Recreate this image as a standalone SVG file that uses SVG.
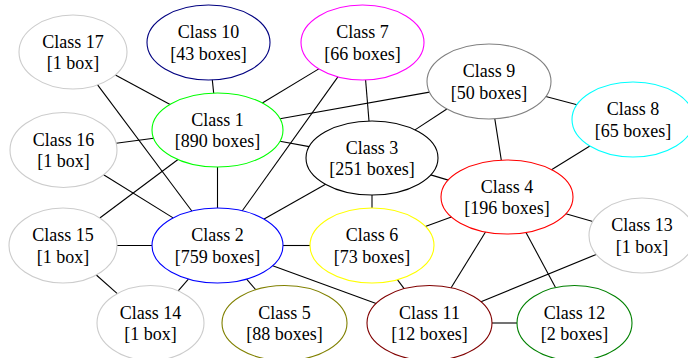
<svg xmlns="http://www.w3.org/2000/svg" width="688" height="358" viewBox="0 0 688 358">
<style>
ellipse{fill:none;stroke-width:1.1}
text{font-family:"Liberation Serif","Times New Roman",serif;font-size:18px;text-anchor:middle;fill:#000}
#edges line{stroke:#000;stroke-width:1.1}
</style>
<rect width="688" height="358" fill="#fff"/>
<g id="edges">
<line x1="115.4" y1="74.9" x2="170.1" y2="104.4"/>
<line x1="97.6" y1="84.9" x2="191.8" y2="211"/>
<line x1="212.3" y1="79.9" x2="213.7" y2="93.1"/>
<line x1="318.8" y1="68.9" x2="262.3" y2="103"/>
<line x1="337.9" y1="76.9" x2="242.3" y2="210.8"/>
<line x1="429.5" y1="92.1" x2="280" y2="118.8"/>
<line x1="279.9" y1="141.3" x2="309.2" y2="146.6"/>
<line x1="116.1" y1="143.2" x2="153.7" y2="138.3"/>
<line x1="103.6" y1="174.8" x2="173.1" y2="217.9"/>
<line x1="178" y1="159.5" x2="99.8" y2="218"/>
<line x1="217.5" y1="167" x2="217.5" y2="208"/>
<line x1="365.6" y1="80" x2="369" y2="121"/>
<line x1="446.9" y1="109" x2="415" y2="129.9"/>
<line x1="494.8" y1="118.8" x2="501.3" y2="160.1"/>
<line x1="545.8" y1="96.5" x2="577" y2="104.7"/>
<line x1="589.9" y1="146" x2="551.5" y2="169.7"/>
<line x1="430.7" y1="174.9" x2="448.3" y2="180.1"/>
<line x1="372" y1="195" x2="372" y2="208"/>
<line x1="325.6" y1="184.3" x2="264.1" y2="219.1"/>
<line x1="451.4" y1="217" x2="425.3" y2="226.4"/>
<line x1="565.8" y1="213.8" x2="592.8" y2="221.5"/>
<line x1="485.5" y1="232" x2="451.1" y2="287.8"/>
<line x1="526" y1="232.4" x2="555.5" y2="287.6"/>
<line x1="596.2" y1="254.4" x2="481" y2="301.8"/>
<line x1="492" y1="323" x2="517" y2="323"/>
<line x1="397.4" y1="279.7" x2="404.1" y2="288.7"/>
<line x1="272.7" y1="265.7" x2="376.1" y2="303.5"/>
<line x1="283" y1="245.5" x2="310" y2="245.5"/>
<line x1="246.6" y1="279.1" x2="255.7" y2="289.7"/>
<line x1="188.4" y1="279.1" x2="178.2" y2="290.9"/>
<line x1="117" y1="245.5" x2="152" y2="245.5"/>
<line x1="96.3" y1="275" x2="117.3" y2="293.6"/>
</g>
<g id="n17"><ellipse cx="73" cy="52" rx="54" ry="37" stroke="#cccccc"/><text x="73" y="47.5">Class 17</text><text x="73" y="69">[1 box]</text></g>
<g id="n10"><ellipse cx="208.5" cy="42.5" rx="61.5" ry="37.5" stroke="#000080"/><text x="208.5" y="38">Class 10</text><text x="208.5" y="59.5">[43 boxes]</text></g>
<g id="n7"><ellipse cx="362.5" cy="42.5" rx="61.5" ry="37.5" stroke="#ff00ff"/><text x="362.5" y="38">Class 7</text><text x="362.5" y="59.5">[66 boxes]</text></g>
<g id="n9"><ellipse cx="489" cy="81.5" rx="62" ry="37.5" stroke="#808080"/><text x="489" y="77">Class 9</text><text x="489" y="98.5">[50 boxes]</text></g>
<g id="n8"><ellipse cx="633" cy="119.5" rx="61" ry="37.5" stroke="#00ffff"/><text x="633" y="115">Class 8</text><text x="633" y="136.5">[65 boxes]</text></g>
<g id="n1"><ellipse cx="217.5" cy="130" rx="65.5" ry="37" stroke="#00ff00"/><text x="217.5" y="125.5">Class 1</text><text x="217.5" y="147">[890 boxes]</text></g>
<g id="n16"><ellipse cx="63.5" cy="150" rx="53.5" ry="37.5" stroke="#cccccc"/><text x="63.5" y="145.5">Class 16</text><text x="63.5" y="167">[1 box]</text></g>
<g id="n3"><ellipse cx="372" cy="158" rx="66" ry="37" stroke="#000000"/><text x="372" y="153.5">Class 3</text><text x="372" y="175">[251 boxes]</text></g>
<g id="n4"><ellipse cx="507" cy="197" rx="66" ry="37" stroke="#ff0000"/><text x="507" y="192.5">Class 4</text><text x="507" y="214">[196 boxes]</text></g>
<g id="n13"><ellipse cx="642" cy="235.5" rx="53" ry="37.5" stroke="#cccccc"/><text x="642" y="231">Class 13</text><text x="642" y="252.5">[1 box]</text></g>
<g id="n15"><ellipse cx="63" cy="245.5" rx="54" ry="37.5" stroke="#cccccc"/><text x="63" y="241">Class 15</text><text x="63" y="262.5">[1 box]</text></g>
<g id="n2"><ellipse cx="217.5" cy="245.5" rx="65.5" ry="37.5" stroke="#0000ff"/><text x="217.5" y="241">Class 2</text><text x="217.5" y="262.5">[759 boxes]</text></g>
<g id="n6"><ellipse cx="372" cy="245.5" rx="62" ry="37.5" stroke="#ffff00"/><text x="372" y="241">Class 6</text><text x="372" y="262.5">[73 boxes]</text></g>
<g id="n14"><ellipse cx="150.5" cy="323" rx="53.5" ry="37.5" stroke="#cccccc"/><text x="150.5" y="318.5">Class 14</text><text x="150.5" y="340">[1 box]</text></g>
<g id="n5"><ellipse cx="284.5" cy="323" rx="62.5" ry="37.5" stroke="#808000"/><text x="284.5" y="318.5">Class 5</text><text x="284.5" y="340">[88 boxes]</text></g>
<g id="n11"><ellipse cx="429.5" cy="323" rx="62.5" ry="37.5" stroke="#800000"/><text x="429.5" y="318.5">Class 11</text><text x="429.5" y="340">[12 boxes]</text></g>
<g id="n12"><ellipse cx="574.5" cy="323" rx="57.5" ry="37.5" stroke="#008000"/><text x="574.5" y="318.5">Class 12</text><text x="574.5" y="340">[2 boxes]</text></g>
</svg>
